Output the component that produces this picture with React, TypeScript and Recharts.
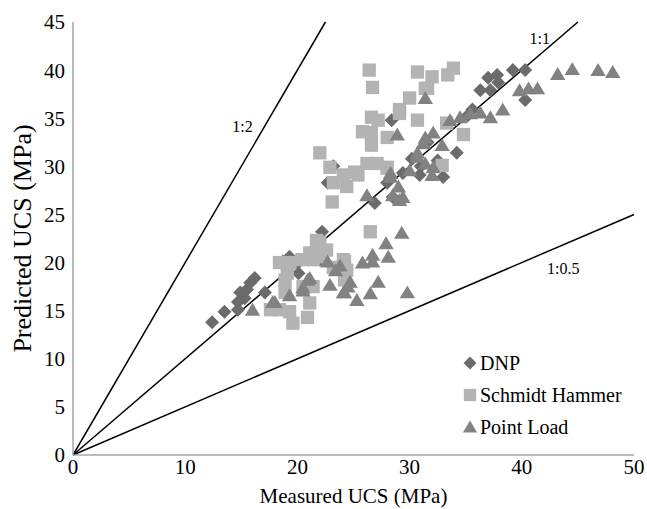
import {
  ScatterChart,
  Scatter,
  XAxis,
  YAxis,
  ReferenceLine,
  ReferenceDot,
  Legend,
} from "recharts";

// measured / predicted UCS pairs (MPa)
const dnpPoints: [number, number][] = [
  [12.4, 13.8], [13.5, 14.9], [14.7, 15.1], [14.7, 15.9], [14.9, 16.9],
  [15.3, 16.3], [15.8, 17.9], [16.2, 18.4], [17.1, 16.9], [15.5, 17.2],
  [18.7, 20.1], [19.3, 20.6], [20.1, 20.0], [20.1, 18.9], [22.2, 23.2],
  [22.7, 28.3], [23.2, 30.0], [26.9, 26.2], [28.0, 28.3], [28.4, 34.8],
  [28.5, 26.8], [29.4, 29.3], [30.9, 29.1], [31.6, 32.5], [33.0, 28.9],
  [34.2, 31.4], [35.2, 35.3], [35.6, 35.9], [36.3, 37.9], [37.0, 39.2],
  [37.2, 37.9], [37.8, 39.5], [37.9, 38.7], [39.2, 40.0], [40.3, 40.0],
  [40.3, 36.9], [31.0, 30.0], [32.5, 30.6], [30.2, 30.8], [22.0, 20.3],
];

const schmidtPoints: [number, number][] = [
  [26.4, 40.0], [26.7, 38.2], [30.7, 39.8], [31.4, 38.1], [30.0, 37.1],
  [29.1, 35.9], [30.7, 34.8], [26.6, 35.1], [27.2, 34.8], [25.8, 33.6],
  [26.6, 33.5], [26.6, 32.2], [22.0, 31.4], [22.9, 29.9], [25.1, 29.4],
  [25.4, 29.1], [26.2, 30.3], [27.1, 30.3], [28.0, 29.8], [24.1, 29.1],
  [23.2, 28.3], [24.4, 27.9], [23.1, 26.3], [26.5, 23.2], [22.0, 22.1],
  [22.0, 20.6], [21.1, 21.0], [24.1, 20.3], [24.4, 19.2], [23.2, 19.5],
  [19.3, 20.0], [20.4, 20.3], [19.1, 18.9], [17.6, 15.1], [18.4, 15.1],
  [19.3, 14.9], [19.6, 13.7], [20.9, 14.3], [21.1, 15.8], [21.7, 22.3],
  [21.4, 20.3], [21.4, 17.5], [21.8, 21.3], [29.1, 35.5], [28.0, 33.0],
  [34.8, 33.3], [32.9, 30.1], [33.3, 34.5], [28.0, 29.9], [32.0, 39.3],
  [33.4, 39.5], [33.9, 40.2], [31.6, 38.1], [24.2, 20.1], [24.2, 18.2],
  [18.4, 20.0], [18.9, 18.2], [18.9, 16.9], [20.5, 17.5], [22.6, 21.3],
];

const pointLoadPoints: [number, number][] = [
  [16.0, 15.1], [18.0, 15.9], [19.3, 16.6], [20.5, 17.1], [20.9, 18.2],
  [21.1, 18.4], [20.5, 17.4], [22.9, 17.7], [24.5, 17.5], [24.1, 16.9],
  [22.7, 20.1], [23.8, 19.7], [23.4, 19.2], [24.7, 18.0], [24.2, 16.9],
  [25.3, 16.1], [25.8, 20.0], [26.7, 20.8], [26.7, 20.1], [26.5, 16.8],
  [27.2, 18.0], [27.9, 22.0], [28.1, 20.6], [29.3, 23.1], [29.8, 16.9],
  [26.2, 27.0], [29.1, 26.5], [28.3, 29.3], [28.9, 33.3], [31.4, 37.1],
  [30.7, 31.0], [31.2, 32.4], [31.4, 33.0], [32.1, 33.5], [32.9, 32.2],
  [33.6, 34.8], [34.5, 35.1], [35.4, 35.5], [30.7, 31.4], [31.4, 30.3],
  [32.1, 29.9], [32.0, 29.1], [30.0, 29.6], [28.3, 28.9], [29.0, 27.9],
  [29.4, 26.8], [28.5, 27.0], [36.3, 35.6], [37.2, 35.1], [38.3, 35.9],
  [39.8, 37.9], [40.6, 38.1], [41.4, 38.1], [43.2, 39.6], [44.5, 40.1],
  [46.8, 40.0], [48.1, 39.8], [17.8, 15.9],
];

const xTicks = [0, 10, 20, 30, 40, 50];
const yTicks = [0, 5, 10, 15, 20, 25, 30, 35, 40, 45];

// ratio lines: label, end point, label anchor
const ratioLines = [
  { name: "1:2", end: [22.5, 45], at: [15.1, 34.2] },
  { name: "1:1", end: [45, 45], at: [41.6, 43.3] },
  { name: "1:0.5", end: [50, 25], at: [43.7, 19.4] },
];

const FONT = '"Liberation Serif", "Times New Roman", serif';

const toXY = (pts: [number, number][]) => pts.map(([x, y]) => ({ x, y }));

const SERIES = [
  { name: "DNP", data: toXY(dnpPoints), color: "#6b6b6b", kind: "diamond" },
  { name: "Schmidt Hammer", data: toXY(schmidtPoints), color: "#b3b3b3", kind: "square" },
  { name: "Point Load", data: toXY(pointLoadPoints), color: "#828282", kind: "triangle" },
];

function marker(kind: string, cx: number, cy: number, fill: string, s: number) {
  if (kind === "diamond") {
    return (
      <polygon
        points={`${cx},${cy - s} ${cx + s},${cy} ${cx},${cy + s} ${cx - s},${cy}`}
        fill={fill}
      />
    );
  }
  if (kind === "square") {
    const h = s * 0.95;
    return <rect x={cx - h} y={cy - h} width={h * 2} height={h * 2} fill={fill} />;
  }
  const w = s * 1.1;
  return (
    <polygon
      points={`${cx},${cy - s} ${cx + w},${cy + s * 0.85} ${cx - w},${cy + s * 0.85}`}
      fill={fill}
    />
  );
}

// legend keeps the series order of the figure
function LegendBox() {
  return (
    <div style={{ fontFamily: FONT, fontSize: 20, color: "#000" }}>
      {SERIES.map((s) => (
        <div key={s.name} style={{ display: "flex", alignItems: "center", height: 32 }}>
          <svg width={16} height={16} style={{ marginRight: 2 }}>
            {marker(s.kind, 8, 8, s.color, 6.5)}
          </svg>
          <span>{s.name}</span>
        </div>
      ))}
    </div>
  );
}

export default function App() {
  return (
    <div style={{ position: "absolute", left: 0, top: 0, background: "#fff" }}>
      <ScatterChart
        width={647}
        height={509}
        margin={{ top: 22, right: 13, left: 0, bottom: 0 }}
      >
        <XAxis
          type="number"
          dataKey="x"
          domain={[0, 50]}
          ticks={xTicks}
          interval={0}
          height={54}
          axisLine={{ stroke: "#a6a6a6", strokeWidth: 1.5 }}
          tickLine={false}
          tickSize={4}
          tickMargin={0}
          tick={{ fill: "#000", fontSize: 21, fontFamily: FONT }}
          label={{
            value: "Measured UCS (MPa)",
            position: "insideBottom",
            offset: 6,
            fill: "#000",
            fontSize: 21,
            fontFamily: FONT,
          }}
        />
        <YAxis
          type="number"
          dataKey="y"
          domain={[0, 45]}
          ticks={yTicks}
          interval={0}
          width={73}
          axisLine={{ stroke: "#a6a6a6", strokeWidth: 1.5 }}
          tickLine={false}
          tick={{ fill: "#000", fontSize: 21, fontFamily: FONT }}
          label={{
            value: "Predicted UCS (MPa)",
            angle: -90,
            position: "insideLeft",
            offset: 22,
            fill: "#000",
            fontSize: 26,
            fontFamily: FONT,
            style: { textAnchor: "middle" },
          }}
        />
        <Legend
          layout="horizontal"
          verticalAlign="middle"
          align="center"
          wrapperStyle={{ left: 462, top: 347, width: 185 }}
          content={<LegendBox />}
        />
        {SERIES.map((s) => (
          <Scatter
            key={s.name}
            name={s.name}
            data={s.data}
            fill={s.color}
            isAnimationActive={false}
            shape={(p: any) => marker(s.kind, p.cx, p.cy, s.color, 7)}
          />
        ))}
        {ratioLines.map((r) => (
          <ReferenceLine
            key={r.name}
            segment={[
              { x: 0, y: 0 },
              { x: r.end[0], y: r.end[1] },
            ]}
            stroke="#000"
            strokeWidth={1.5}
            ifOverflow="visible"
          />
        ))}
        {ratioLines.map((r) => (
          <ReferenceDot
            key={r.name + "-label"}
            x={r.at[0]}
            y={r.at[1]}
            r={0}
            fill="none"
            stroke="none"
            ifOverflow="visible"
            label={{
              value: r.name,
              position: "center",
              fill: "#000",
              fontSize: 16,
              fontFamily: FONT,
            }}
          />
        ))}
      </ScatterChart>
    </div>
  );
}
